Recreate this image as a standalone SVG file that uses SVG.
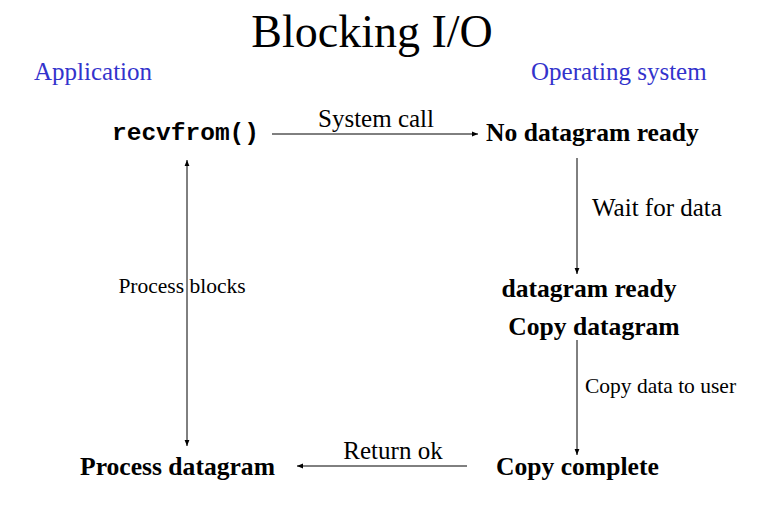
<svg xmlns="http://www.w3.org/2000/svg" width="780" height="517" viewBox="0 0 780 517">
<defs>
<marker id="ah" viewBox="0 0 10 10" refX="10" refY="5" markerWidth="6" markerHeight="6" orient="auto-start-reverse" markerUnits="userSpaceOnUse">
<path d="M0,1 L10,5 L0,9 z" fill="#000"/>
</marker>
<style>
text{font-family:"Liberation Serif","Times New Roman",serif;fill:#000}
.b{font-weight:bold;font-size:25.6px}
.r{font-size:25px}
.s{font-size:21.5px}
.blue{fill:#3333cc;font-size:25px}
.mono{font-family:"Liberation Mono","Courier New",monospace;font-weight:bold;font-size:24.5px}
.ln{stroke:#000;stroke-width:1;fill:none;marker-end:url(#ah)}
</style>
</defs>
<rect width="780" height="517" fill="#fff"/>
<text x="372" y="47" text-anchor="middle" style="font-size:46px">Blocking I/O</text>
<text x="34" y="80" class="blue">Application</text>
<text x="531" y="80" class="blue">Operating system</text>
<g id="connectors">
<line class="ln" x1="272" y1="134" x2="478" y2="134"/>
<line class="ln" x1="577" y1="158" x2="577" y2="274"/>
<line class="ln" x1="577" y1="340" x2="577" y2="455"/>
<line class="ln" x1="467" y1="466" x2="297" y2="466"/>
<line class="ln" x1="187" y1="160" x2="187" y2="446" style="marker-start:url(#ah)"/>
<text x="376" y="127" class="r" text-anchor="middle">System call</text>
<text x="592" y="216" class="r">Wait for data</text>
<text x="585" y="393" class="s">Copy data to user</text>
<text x="393" y="459" class="r" text-anchor="middle">Return ok</text>
<text x="182" y="293" class="s" text-anchor="middle">Process blocks</text>
</g>
<g id="recvfrom"><text x="112" y="140" class="mono">recvfrom()</text></g>
<g id="no-datagram"><text x="486" y="141" class="b">No datagram ready</text></g>
<g id="datagram-ready"><text x="589" y="297" class="b" text-anchor="middle">datagram ready</text><text x="594" y="335" class="b" text-anchor="middle">Copy datagram</text></g>
<g id="copy-complete"><text x="496" y="475" class="b">Copy complete</text></g>
<g id="process-datagram"><text x="80" y="475" class="b">Process datagram</text></g>
</svg>
